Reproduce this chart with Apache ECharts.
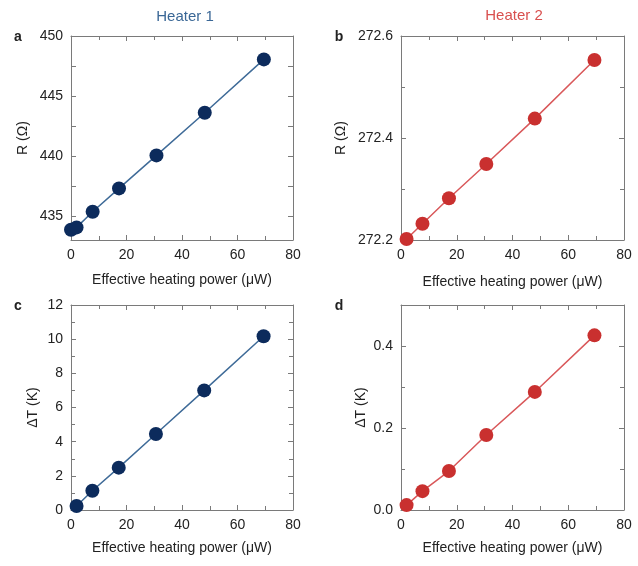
<!DOCTYPE html>
<html>
<head>
<meta charset="utf-8">
<script src="https://cdn.jsdelivr.net/npm/echarts@6/dist/echarts.min.js"></script>
<style>html,body{margin:0;padding:0;background:#fff;}#c{width:638px;height:566px;}</style>
</head>
<body>
<div id="c"></div>
<script>
// Data
const powerA = [0, 2, 7.8, 17.3, 30.8, 48.2, 69.5];
const rHeater1 = [433.85, 434.05, 435.35, 437.3, 440.05, 443.6, 448.05];
const power = [2, 7.7, 17.2, 30.6, 48, 69.4];
const rHeater2 = [272.202, 272.232, 272.282, 272.349, 272.438, 272.553];
const dTHeater1 = [0.23, 1.13, 2.48, 4.45, 7.0, 10.17];
const dTHeater2 = [0.012, 0.046, 0.095, 0.183, 0.288, 0.426];
const xTicks = [0, 20, 40, 60, 80];
const rTicksA = [435, 440, 445, 450];
const rTicksAAll = [435, 437.5, 440, 442.5, 445, 447.5, 450];
const titles = ['Heater 1', 'Heater 2'];
const letters = ['a', 'b', 'c', 'd'];
const xName = 'Effective heating power (\u03bcW)';
const yNames = ['R (\u03a9)', 'R (\u03a9)', '\u0394T (K)', '\u0394T (K)'];

const FONT = '"Liberation Sans", Arial, Helvetica, sans-serif';
const blueDot = '#0c2b5c', blueLine = '#3f6b98';
const redDot = '#c9302f', redLine = '#d9585a';
const axisCol = '#7a7a7a';

const grids = [
  {left: 71, top: 36, width: 222, height: 204},
  {left: 401, top: 36, width: 223, height: 204},
  {left: 71, top: 305, width: 222, height: 205},
  {left: 401, top: 305, width: 223, height: 205}
];
const yCfg = [
  {min: 433, max: 450, interval: 1, minor: 1, gap: 41, fmt: v => v, custom: true},
  {min: 272.2, max: 272.6, interval: 0.2, minor: 0.1, gap: 53, fmt: v => v.toFixed(1)},
  {min: 0, max: 12, interval: 2, minor: 1, gap: 31, fmt: v => v},
  {min: 0, max: 0.5, interval: 0.2, minor: 0.1, gap: 33, fmt: v => v.toFixed(1)}
];
const xGaps = [33, 35, 31, 31];

const xAxis = [], yAxis = [];
function yAx(i, pos) {
  const yc = yCfg[i];
  const left = pos === 'left';
  const ax = {
    type: 'value', gridIndex: i, min: yc.min, max: yc.max, interval: yc.interval,
    position: pos,
    axisLine: {show: true, onZero: false, lineStyle: {color: axisCol, width: 1}},
    axisTick: {show: true, inside: true, length: 5, lineStyle: {color: axisCol}},
    minorTick: {show: !yc.custom, splitNumber: Math.round(yc.interval / yc.minor), length: 4, lineStyle: {color: axisCol}},
    axisLabel: left ? {fontFamily: FONT, fontSize: 14, color: '#222', margin: 8, showMaxLabel: i !== 3,
      formatter: v => yc.fmt(v)} : {show: false},
    splitLine: {show: false}
  };
  if (yc.custom) {
    ax.axisTick.customValues = rTicksAAll;
    if (left) ax.axisLabel.customValues = rTicksA;
  }
  if (left) {
    ax.name = yNames[i]; ax.nameLocation = 'middle'; ax.nameGap = yc.gap; ax.nameRotate = 90;
    ax.nameTextStyle = {fontFamily: FONT, fontSize: 14, color: '#222'};
  }
  return ax;
}
grids.forEach((g, i) => {
  xAxis.push({
    type: 'value', gridIndex: i, min: 0, max: 80, interval: 20,
    position: 'bottom',
    name: xName, nameLocation: 'middle', nameGap: xGaps[i],
    nameTextStyle: {fontFamily: FONT, fontSize: 14, color: '#222'},
    axisLine: {show: true, onZero: false, lineStyle: {color: axisCol, width: 1}},
    axisTick: {show: true, inside: true, length: 5, lineStyle: {color: axisCol}},
    minorTick: {show: true, splitNumber: 2, length: 4, lineStyle: {color: axisCol}},
    axisLabel: {fontFamily: FONT, fontSize: 14, color: '#222', margin: 8,
      formatter: v => xTicks.includes(v) ? String(v) : ''},
    splitLine: {show: false}
  });
  xAxis.push({
    type: 'value', gridIndex: i, min: 0, max: 80, interval: 20, position: 'top',
    axisLine: {show: true, onZero: false, lineStyle: {color: axisCol, width: 1}},
    axisTick: {show: true, inside: true, length: 5, lineStyle: {color: axisCol}},
    minorTick: {show: true, splitNumber: 2, length: 4, lineStyle: {color: axisCol}},
    axisLabel: {show: false}, splitLine: {show: false}
  });
  yAxis.push(yAx(i, 'left'));
  yAxis.push(yAx(i, 'right'));
});

function mk(i, xs, ys, dot, line) {
  return {
    type: 'line', xAxisIndex: i * 2, yAxisIndex: i * 2,
    data: xs.map((x, k) => [x, ys[k]]),
    symbol: 'circle', symbolSize: 14, showAllSymbol: true,
    lineStyle: {color: line, width: 1.5},
    itemStyle: {color: dot},
    clip: false, animation: false
  };
}

const graphic = [];
[[185, 17], [514, 16]].forEach((p, i) => {
  graphic.push({type: 'text', x: p[0], y: p[1], style: {text: titles[i], fontFamily: FONT, fontSize: 15,
    fill: i === 0 ? '#3a6796' : '#d9504f', align: 'center', verticalAlign: 'middle'}});
});
[[18, 37], [339, 37], [18, 306], [339, 306]].forEach((p, i) => {
  graphic.push({type: 'text', x: p[0], y: p[1], style: {text: letters[i], fontFamily: FONT, fontSize: 14,
    fontWeight: 'bold', fill: '#222', align: 'center', verticalAlign: 'middle'}});
});

const chart = echarts.init(document.getElementById('c'), null, {renderer: 'canvas'});
chart.setOption({
  animation: false,
  backgroundColor: '#fff',
  grid: grids,
  xAxis, yAxis,
  graphic,
  series: [
    mk(0, powerA, rHeater1, blueDot, blueLine),
    mk(1, power, rHeater2, redDot, redLine),
    mk(2, power, dTHeater1, blueDot, blueLine),
    mk(3, power, dTHeater2, redDot, redLine)
  ]
});
</script>
</body>
</html>
